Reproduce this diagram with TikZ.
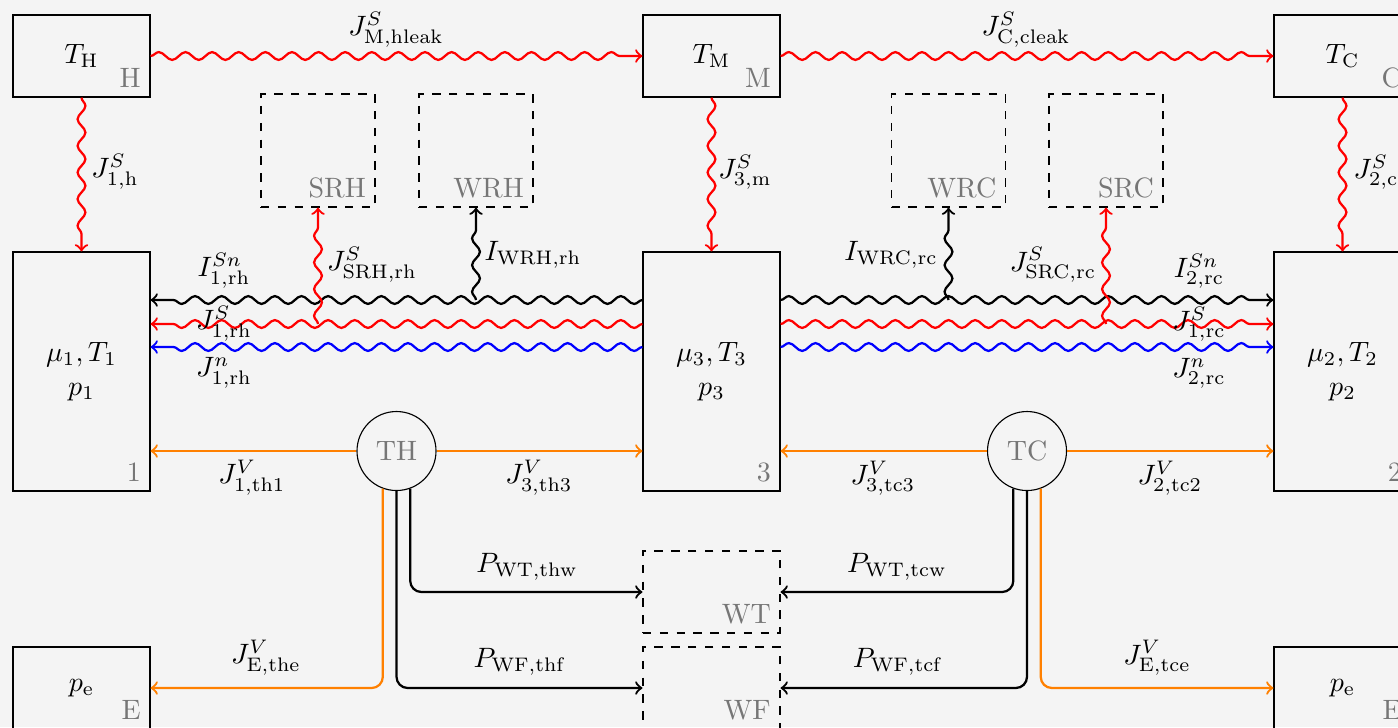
\documentclass[tikz,border=0pt]{standalone}
\usetikzlibrary{decorations.pathmorphing,calc}
\def\pu{0.357pt}
\definecolor{bgc}{RGB}{244,244,244}
\definecolor{tagc}{RGB}{118,118,118}
\tikzset{
  box/.style={draw, minimum width=137*\pu, minimum height=82*\pu, inner sep=0pt, align=center},
  tallbox/.style={box, minimum height=239*\pu},
  dbox/.style={draw, dashed, minimum width=114*\pu, minimum height=113*\pu, inner sep=0pt},
  dwbox/.style={draw, dashed, minimum width=137*\pu, minimum height=82*\pu, inner sep=0pt},
  ring/.style={draw, circle, minimum size=79*\pu, inner sep=0pt, text=tagc},
  tag/.style={text=tagc, inner sep=3.3pt, anchor=south east},
  lab/.style={inner sep=0pt},
  flow/.style={thick, ->, >=to},
  wave/.style={flow, decorate, decoration={snake, amplitude=1.4pt, segment length=9.5pt, post length=5pt}},
}
\begin{document}
\begin{tikzpicture}[x=0.357pt, y=-0.357pt]
\path[use as bounding box, fill=bgc] (0,0) rectangle (1398,727);
\clip (0,0) rectangle (1398,727);

% reservoirs
\node[box] (H) at (81.5,56) {$T_{\mathrm{H}}$};
\node[box] (M) at (711.5,56) {$T_{\mathrm{M}}$};
\node[box] (C) at (1342.5,56) {$T_{\mathrm{C}}$};
\node[tag] (Ht) at (H.south east) {H};
\node[tag] (Mt) at (M.south east) {M};
\node[tag] (Ct) at (C.south east) {C};

% chambers
\node[tallbox] (B1) at (81.5,371.5) {$\mu_1, T_1$\\$p_1$};
\node[tallbox] (B3) at (711.5,371.5) {$\mu_3, T_3$\\$p_3$};
\node[tallbox] (B2) at (1342.5,371.5) {$\mu_2, T_2$\\$p_2$};
\node[tag] (B1t) at (B1.south east) {1};
\node[tag] (B3t) at (B3.south east) {3};
\node[tag] (B2t) at (B2.south east) {2};

% environment
\node[box] (EL) at (81.5,688) {$p_{\mathrm{e}}$};
\node[box] (ER) at (1342.5,688) {$p_{\mathrm{e}}$};
\node[tag] (ELt) at (EL.south east) {E};
\node[tag] (ERt) at (ER.south east) {E};

% dashed sinks
\node[dbox] (SRH) at (318,150.5) {};
\node[dbox] (WRH) at (476,150.5) {};
\node[dbox] (WRC) at (948.5,150.5) {};
\node[dbox] (SRC) at (1106,150.5) {};
\node[tag] (SRHt) at (SRH.south east) {SRH};
\node[tag] (WRHt) at (WRH.south east) {WRH};
\node[tag] (WRCt) at (WRC.south east) {WRC};
\node[tag] (SRCt) at (SRC.south east) {SRC};
\node[dwbox] (WT) at (711.5,592) {};
\node[dwbox] (WF) at (711.5,688) {};
\node[tag] (WTt) at (WT.south east) {WT};
\node[tag] (WFt) at (WF.south east) {WF};

% turbines
\node[ring] (TH) at (396.5,451) {TH};
\node[ring] (TC) at (1027,451) {TC};

% top leaks
\draw[wave, red] (H.east) -- (M.west);
\draw[wave, red] (M.east) -- (C.west);
\draw[wave, red] (H.south) -- (B1.north);
\draw[wave, red] (M.south) -- (B3.north);
\draw[wave, red] (C.south) -- (B2.north);

% middle flows
\draw[wave, black] ($(B3.west)+(0,-71.5)$) -- ($(B1.east)+(0,-71.5)$);
\draw[wave, red]   ($(B3.west)+(0,-47.5)$) -- ($(B1.east)+(0,-47.5)$);
\draw[wave, blue]  ($(B3.west)+(0,-24.5)$) -- ($(B1.east)+(0,-24.5)$);
\draw[wave, black] ($(B3.east)+(0,-71.5)$) -- ($(B2.west)+(0,-71.5)$);
\draw[wave, red]   ($(B3.east)+(0,-47.5)$) -- ($(B2.west)+(0,-47.5)$);
\draw[wave, blue]  ($(B3.east)+(0,-24.5)$) -- ($(B2.west)+(0,-24.5)$);

% branches to dashed sinks
\coordinate (srhfoot) at (318,324);
\coordinate (wrhfoot) at (476,300);
\coordinate (wrcfoot) at (948.5,300);
\coordinate (srcfoot) at (1106,324);
\draw[wave, red] (srhfoot) -- (SRH.south);
\draw[wave, black] (wrhfoot) -- (WRH.south);
\draw[wave, black] (wrcfoot) -- (WRC.south);
\draw[wave, red] (srcfoot) -- (SRC.south);

% volume flows
\draw[flow, orange] (TH.west) -- (B1.east |- TH.west);
\draw[flow, orange] (TH.east) -- (B3.west |- TH.east);
\draw[flow, orange] (TC.west) -- (B3.east |- TC.west);
\draw[flow, orange] (TC.east) -- (B2.west |- TC.east);
\draw[flow, orange, rounded corners] (TH.250) |- (EL.east);
\draw[flow, orange, rounded corners] (TC.290) |- (ER.west);

% power
\draw[flow, rounded corners] (TH.290) |- (WT.west);
\draw[flow, rounded corners] (TH.south) |- (WF.west);
\draw[flow, rounded corners] (TC.250) |- (WT.east);
\draw[flow, rounded corners] (TC.south) |- (WF.east);

% labels
\node[lab] (l1) at (396,30) {$J^{S}_{\mathrm{M,hleak}}$};
\node[lab] (l2) at (1026,30) {$J^{S}_{\mathrm{C,cleak}}$};
\node[lab] (l3) at (115,172) {$J^{S}_{1,\mathrm{h}}$};
\node[lab] (l4) at (745,172) {$J^{S}_{3,\mathrm{m}}$};
\node[lab] (l5) at (1376,172) {$J^{S}_{2,\mathrm{c}}$};
\node[lab] (l6) at (224,271) {$I^{Sn}_{1,\mathrm{rh}}$};
\node[lab] (l7) at (224,324) {$J^{S}_{1,\mathrm{rh}}$};
\node[lab] (l8) at (224,373) {$J^{n}_{1,\mathrm{rh}}$};
\node[lab] (l9) at (372,265) {$J^{S}_{\mathrm{SRH,rh}}$};
\node[lab] (l10) at (533,255) {$I_{\mathrm{WRH,rh}}$};
\node[lab] (l11) at (891,255) {$I_{\mathrm{WRC,rc}}$};
\node[lab] (l12) at (1053,265) {$J^{S}_{\mathrm{SRC,rc}}$};
\node[lab] (l13) at (1199,271) {$I^{Sn}_{2,\mathrm{rc}}$};
\node[lab] (l14) at (1199,324) {$J^{S}_{1,\mathrm{rc}}$};
\node[lab] (l15) at (1199,373) {$J^{n}_{2,\mathrm{rc}}$};
\node[lab] (l16) at (252,478) {$J^{V}_{1,\mathrm{th1}}$};
\node[lab] (l17) at (539,478) {$J^{V}_{3,\mathrm{th3}}$};
\node[lab] (l18) at (883,478) {$J^{V}_{3,\mathrm{tc3}}$};
\node[lab] (l19) at (1170,478) {$J^{V}_{2,\mathrm{tc2}}$};
\node[lab] (l20) at (266,658) {$J^{V}_{\mathrm{E,the}}$};
\node[lab] (l21) at (1157,658) {$J^{V}_{\mathrm{E,tce}}$};
\node[lab] (l22) at (527,567) {$P_{\mathrm{WT,thw}}$};
\node[lab] (l23) at (520,662) {$P_{\mathrm{WF,thf}}$};
\node[lab] (l24) at (897,567) {$P_{\mathrm{WT,tcw}}$};
\node[lab] (l25) at (898,662) {$P_{\mathrm{WF,tcf}}$};
\end{tikzpicture}
\end{document}
